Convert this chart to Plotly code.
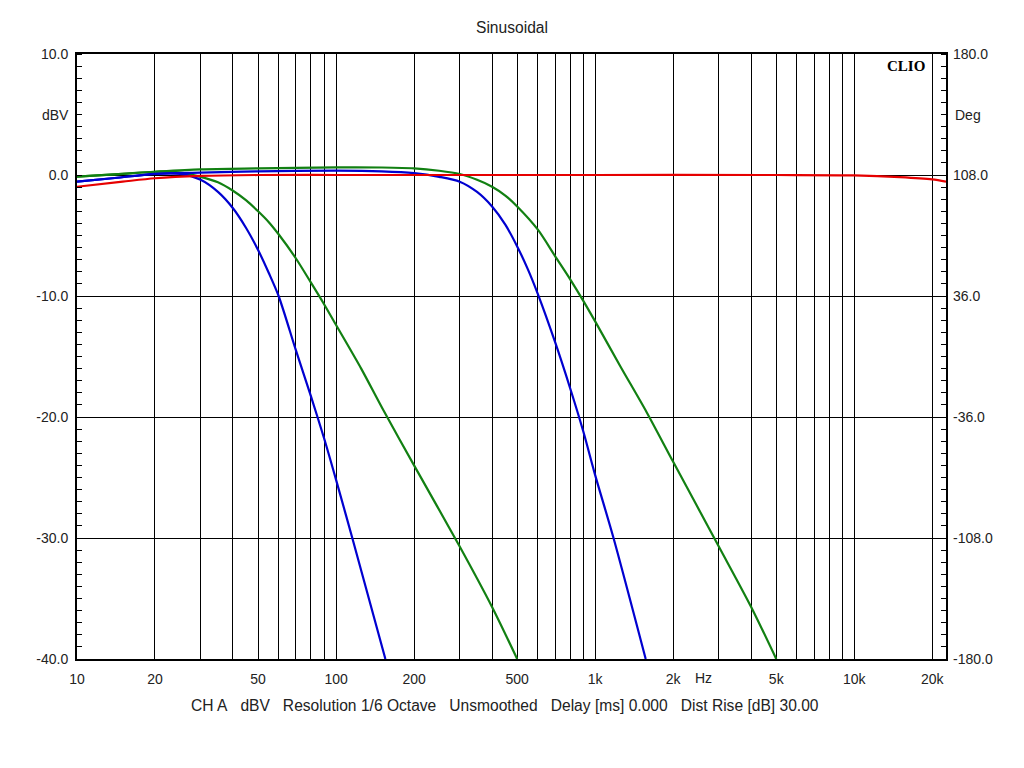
import plotly.graph_objects as go
import math

# ---- data (frequency in Hz, level in dBV) ----
blue1_f = [10, 14, 20, 25, 30, 35, 40, 45, 50, 55, 60, 70, 80, 90, 100, 115.5, 155]
blue1_db = [-0.55, -0.25, 0.1, 0.1, -0.4, -1.4, -2.75, -4.4, -6.2, -8.1, -10.0, -14.5, -18.3, -21.8, -25.2, -30.0, -40.0]

green1_f = [10, 15, 20, 25, 30, 35, 40, 45, 50, 55, 60, 70, 80, 90, 100, 125, 151, 200, 300, 400, 500]
green1_db = [-0.14, 0.1, 0.27, 0.2, -0.15, -0.6, -1.3, -2.1, -3.0, -3.9, -4.9, -6.9, -8.9, -10.7, -12.4, -16.0, -19.3, -24.0, -30.7, -35.7, -40.0]

blue2_f = [10, 14, 20, 30, 50, 100, 150, 200, 250, 300, 350, 400, 450, 500, 550, 600, 700, 800, 900, 1000, 1177, 1567]
blue2_db = [-0.55, -0.25, 0.1, 0.2, 0.3, 0.36, 0.3, 0.15, -0.15, -0.55, -1.4, -2.6, -4.1, -5.9, -7.8, -9.8, -13.8, -17.6, -21.2, -24.8, -30.0, -40.0]

green2_f = [10, 15, 20, 30, 50, 100, 150, 200, 250, 300, 350, 400, 450, 500, 600, 700, 800, 900, 1000, 1250, 1580, 2000, 3000, 4000, 5000]
green2_db = [-0.14, 0.1, 0.27, 0.47, 0.55, 0.63, 0.62, 0.55, 0.35, 0.08, -0.4, -0.97, -1.7, -2.6, -4.5, -6.7, -8.6, -10.4, -12.1, -15.8, -19.6, -23.7, -30.7, -35.7, -40.0]

red_f = [10, 15, 20, 30, 50, 100, 1000, 5000, 10000, 15000, 20000, 22600]
red_db = [-0.97, -0.55, -0.27, -0.08, 0.0, 0.0, 0.0, 0.0, -0.03, -0.17, -0.36, -0.55]

x_tick_vals = [10, 20, 50, 100, 200, 500, 1000, 2000, 5000, 10000, 20000]
x_tick_text = ["10", "20", "50", "100", "200", "500", "1k", "2k", "5k", "10k", "20k"]
x_grid_vals = [20, 30, 40, 50, 60, 70, 80, 90, 100, 200, 300, 400, 500, 600, 700, 800, 900,
               1000, 2000, 3000, 4000, 5000, 6000, 7000, 8000, 9000, 10000, 20000]
y_tick_vals = [10, 0, -10, -20, -30, -40]
y_tick_text = ["10.0", "0.0", "-10.0", "-20.0", "-30.0", "-40.0"]
y2_tick_vals = [180, 108, 36, -36, -108, -180]
y2_tick_text = ["180.0", "108.0", "36.0", "-36.0", "-108.0", "-180.0"]

BLUE = "#0000d0"
GREEN = "#128012"
RED = "#e60000"
FONT = "Liberation Sans, Arial, sans-serif"

fig = go.Figure()
for f, d, c in [(green1_f, green1_db, GREEN), (blue1_f, blue1_db, BLUE),
                (green2_f, green2_db, GREEN), (blue2_f, blue2_db, BLUE),
                (red_f, red_db, RED)]:
    fig.add_trace(go.Scatter(x=f, y=d, mode="lines",
                             line=dict(color=c, width=2.2, shape="spline", smoothing=0.8),
                             showlegend=False, hoverinfo="skip", cliponaxis=True))

# dummy trace for the right axis
fig.add_trace(go.Scatter(x=[10], y=[0], yaxis="y2", mode="markers",
                         marker=dict(opacity=0), showlegend=False, hoverinfo="skip"))

x_range = [1, math.log10(22600)]

# page body has an 8px margin: figure is 1008x752 so the plot lands where the reference has it
fig.update_layout(
    width=1008, height=752,
    margin=dict(l=69, r=70, t=46, b=101),
    paper_bgcolor="white", plot_bgcolor="white",
    font=dict(family=FONT, size=14, color="#222222"),
    xaxis=dict(type="log", range=x_range,
               tickmode="array", tickvals=x_tick_vals, ticktext=x_tick_text,
               showgrid=False, ticks="", ticklabelstandoff=6,
               showline=True, linecolor="black", linewidth=2, mirror=True,
               minor=dict(tickmode="array", tickvals=x_grid_vals, showgrid=True,
                          gridcolor="black", gridwidth=1, ticks=""),
               zeroline=False, automargin=False),
    yaxis=dict(range=[-40, 10], tickmode="array", tickvals=y_tick_vals, ticktext=y_tick_text,
               showgrid=True, gridcolor="black", gridwidth=1,
               ticks="", ticklabelstandoff=4,
               showline=True, linecolor="black", linewidth=2, mirror=True,
               minor=dict(tickmode="linear", tick0=0, dtick=1, ticks="inside",
                          ticklen=5, tickcolor="black", tickwidth=1, showgrid=False),
               zeroline=False, automargin=False),
    yaxis2=dict(range=[-180, 180], overlaying="y", side="right",
                tickmode="array", tickvals=y2_tick_vals, ticktext=y2_tick_text,
                showgrid=False, ticks="", ticklabelstandoff=6,
                minor=dict(tickmode="linear", tick0=-180, dtick=7.2, ticks="inside",
                           ticklen=5, tickcolor="black", tickwidth=1, showgrid=False),
                zeroline=False, showline=False, automargin=False),
)

NB = "\u00a0"
caption = (f"CH A{NB*3}dBV{NB*3}Resolution 1/6 Octave{NB*3}Unsmoothed{NB*3}"
           f"Delay [ms] 0.000{NB*3}Dist Rise [dB] 30.00")

fig.add_annotation(text="Sinusoidal", xref="paper", yref="paper", x=0.5, y=1 + 27 / 605,
                   xanchor="center", yanchor="middle", showarrow=False, font=dict(size=15.6))
fig.add_annotation(text="dBV", xref="paper", yref="y", x=-6 / 869, y=5,
                   xanchor="right", yanchor="middle", showarrow=False)
fig.add_annotation(text="Deg", xref="paper", yref="y", x=1 + 7 / 869, y=5,
                   xanchor="left", yanchor="middle", showarrow=False)
fig.add_annotation(text="Hz", xref="x", yref="paper", x=math.log10(2630), y=-19 / 605,
                   xanchor="center", yanchor="middle", showarrow=False)
fig.add_annotation(text=caption, xref="paper", yref="paper", x=(505 - 77) / 869, y=-46 / 605,
                   xanchor="center", yanchor="middle", showarrow=False, font=dict(size=15.6))
fig.add_annotation(text="<b>CLIO</b>", xref="paper", yref="paper", x=(927 - 77) / 869,
                   y=(659 - 66) / 605, xanchor="right", yanchor="middle", showarrow=False,
                   font=dict(family="Liberation Serif, Times New Roman, serif", size=15, color="black"))

fig.write_html("out.html")
